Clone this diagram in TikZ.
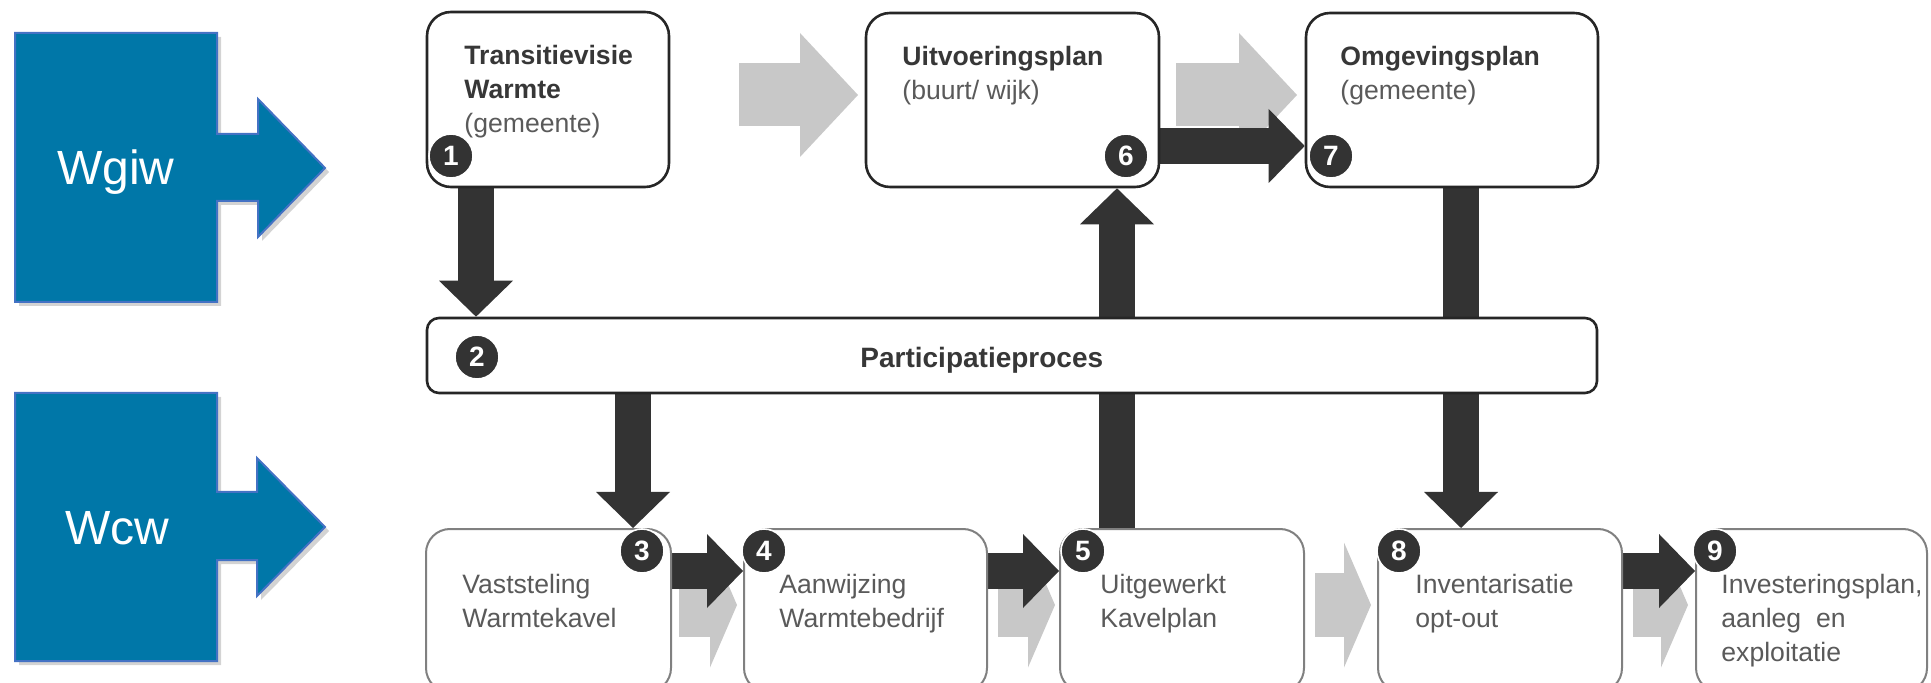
\documentclass[tikz,border=0pt]{standalone}
\usepackage{fontspec}
\setmainfont{Liberation Sans}
\usetikzlibrary{arrows.meta,fit,shadows}
\definecolor{wblue}{RGB}{0,119,168}
\definecolor{wedge}{RGB}{68,114,196}
\definecolor{darkarr}{RGB}{51,51,51}
\definecolor{lightarr}{RGB}{200,200,200}
\definecolor{titlecol}{RGB}{55,55,55}
\definecolor{subcol}{RGB}{90,90,90}
\pgfdeclarelayer{bg}
\pgfsetlayers{bg,main}
\begin{document}
\begin{tikzpicture}[x=0.5pt,y=-0.5pt,
  topbox/.style={draw=black!85, line width=1.3pt, rounded corners=12pt, fill=white, inner sep=0pt},
  partbox/.style={draw=black!85, line width=1.3pt, rounded corners=6pt, fill=white, inner sep=0pt},
  botbox/.style={draw=black!50, line width=1pt, rounded corners=12pt, fill=white, inner sep=0pt},
  badge/.style={circle, fill=darkarr, draw=white, line width=0.8pt, inner sep=0pt, minimum size=22pt, text=white, font=\fontsize{14}{14}\selectfont\bfseries},
  darkarrow/.style={draw=darkarr, line width=18pt, -{Triangle[length=18pt, width=37pt, line width=0pt]}},
  grayarrowtop/.style={draw=lightarr, line width=31.5pt, -{Triangle[length=29pt, width=62pt, line width=0pt]}},
  grayarrowbot/.style={draw=lightarr, line width=32pt, -{Triangle[length=13.5pt, width=62.5pt, line width=0pt]}},
  boxtext/.style={anchor=base west, inner sep=0pt, align=left, font=\fontsize{13.3}{17}\selectfont, text=subcol},
  blueshape/.style={fill=wblue, draw=wedge, line width=1pt, drop shadow={opacity=0.35, shadow xshift=2pt, shadow yshift=-2pt}},
  bluetext/.style={anchor=base, inner sep=0pt, text=white, font=\fontsize{24}{24}\selectfont}
]
\useasboundingbox (0,0) rectangle (1931,683);
\clip (0,0) rectangle (1931,683);

% blue law shapes
\path[blueshape] (15,33) -- (217,33) -- (217,134) -- (258,134) -- (258,99) -- (325,168) -- (258,237) -- (258,201) -- (217,201) -- (217,302) -- (15,302) -- cycle;
\node[bluetext] (wgiw) at (116,185) {Wgiw};
\path[blueshape] (15,393) -- (217,393) -- (217,492) -- (257,492) -- (257,458) -- (325,527) -- (257,596) -- (257,560) -- (217,560) -- (217,661) -- (15,661) -- cycle;
\node[bluetext] (wcw) at (117,545) {Wcw};

% boxes
\node[topbox, fit={(427,12) (669,187)}] (b1) {};
\node[topbox, fit={(866,13) (1159,187)}] (b6) {};
\node[topbox, fit={(1306,13) (1598,187)}] (b7) {};
\node[partbox, fit={(427,318) (1597,393)}] (b2) {};
\node[botbox, fit={(426,529) (671,692)}] (b3) {};
\node[botbox, fit={(744,529) (987,692)}] (b4) {};
\node[botbox, fit={(1060,529) (1304,692)}] (b5) {};
\node[botbox, fit={(1378,529) (1622,692)}] (b8) {};
\node[botbox, fit={(1696,529) (1927,692)}] (b9) {};

% arrows
\begin{pgfonlayer}{bg}
\draw[grayarrowtop] (739,95) -- (858,95);
\draw[grayarrowtop] (1176,95) -- (1297,95);
\draw[grayarrowbot] (679,605) -- (737,605);
\draw[grayarrowbot] (998,605) -- (1055,605);
\draw[grayarrowbot] (1315,605) -- (1371,605);
\draw[grayarrowbot] (1633,605) -- (1688,605);
\draw[darkarrow] (b1.south -| 476,0) -- (b2.north -| 476,0);
\draw[darkarrow] (b2.south -| 633,0) -- (b3.north -| 633,0);
\draw[darkarrow] (b5.north -| 1117,0) -- (b6.south -| 1117,0);
\draw[darkarrow] (b7.south -| 1461,0) -- (b8.north -| 1461,0);
\draw[darkarrow] (b6.east |- 0,146) -- (b7.west |- 0,146);
\draw[darkarrow] (b3.east |- 0,571) -- (b4.west |- 0,571);
\draw[darkarrow] (b4.east |- 0,571) -- (b5.west |- 0,571);
\draw[darkarrow] (b8.east |- 0,571) -- (b9.west |- 0,571);
\end{pgfonlayer}

% texts (anchored at the baseline of the last line)
\node[boxtext] (t1) at (464,133) {{\bfseries\color{titlecol}Transitievisie}\\{\bfseries\color{titlecol}Warmte}\\(gemeente)};
\node[boxtext] (t6) at (902,100) {{\bfseries\color{titlecol}Uitvoeringsplan}\\(buurt/ wijk)};
\node[boxtext] (t7) at (1340,100) {{\bfseries\color{titlecol}Omgevingsplan}\\(gemeente)};
\node[anchor=base west, inner sep=0pt, font=\fontsize{14}{14}\selectfont\bfseries, text=titlecol] (t2) at (860,368) {Participatieproces};
\node[boxtext] (t3) at (462,627) {Vaststeling\\Warmtekavel};
\node[boxtext] (t4) at (779,627) {Aanwijzing\\Warmtebedrijf};
\node[boxtext] (t5) at (1100,627) {Uitgewerkt\\Kavelplan};
\node[boxtext] (t8) at (1415,627) {Inventarisatie\\opt-out};
\node[boxtext] (t9) at (1721,661) {Investeringsplan,\\aanleg~~en\\exploitatie};

% badges
\node[badge] (n1) at (451,156) {1};
\node[badge] (n2) at (477,357) {2};
\node[badge] (n3) at (642,551) {3};
\node[badge] (n4) at (764,551) {4};
\node[badge] (n5) at (1083,551) {5};
\node[badge] (n6) at (1126,156) {6};
\node[badge] (n7) at (1331,156) {7};
\node[badge] (n8) at (1399,551) {8};
\node[badge] (n9) at (1715,551) {9};
\end{tikzpicture}
\end{document}
